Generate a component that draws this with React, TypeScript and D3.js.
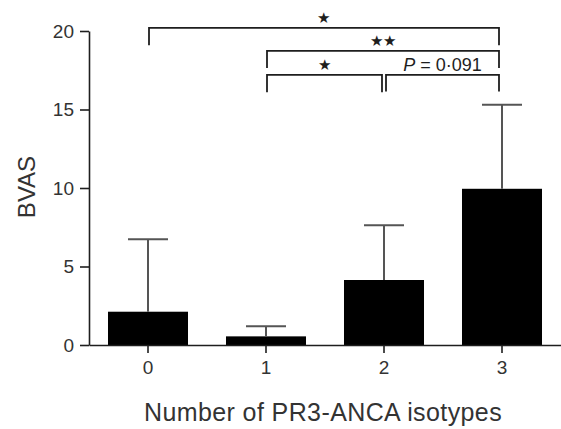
import { useEffect, useRef } from 'react'
import * as d3 from 'd3'

const categories = ['0', '1', '2', '3']
const means = [2.12, 0.55, 4.14, 9.95]
const upper = [6.73, 1.2, 7.62, 15.3]
const yTicks = [0, 5, 10, 15, 20]

// significance brackets: from/to category, bracket level and leg end (data units), label
const brackets = [
  { from: '0', to: '3', top: 20.2, bottom: 19.1, label: '*' },
  { from: '1', to: '3', top: 18.73, bottom: 17.64, label: '**' },
  { from: '1', to: '2', top: 17.2, bottom: 16.1, label: '*' },
  { from: '2', to: '3', top: 17.2, bottom: 16.15, label: 'P = 0·091' },
]

const W = 561
const H = 429
const FONT = 'Liberation Sans, Arial, sans-serif'
const INK = '#1e1e1e'

export default function App() {
  const svgRef = useRef<SVGSVGElement>(null)

  useEffect(() => {
    const svg = d3.select(svgRef.current)
    svg.selectAll('*').remove()

    const x = d3.scaleBand<string>()
      .domain(categories)
      .range([89, 561])
      .paddingInner(0.322)
      .paddingOuter(0.161)

    const y = d3.scaleLinear().domain([0, 20]).range([345, 31])

    const g = svg.append('g')

    // bars
    g.selectAll('rect.bar')
      .data(categories)
      .join('rect')
      .attr('class', 'bar')
      .attr('x', d => x(d)!)
      .attr('width', x.bandwidth())
      .attr('y', (d, i) => y(means[i]))
      .attr('height', (d, i) => y(0) - y(means[i]))
      .attr('fill', '#000')

    // error bars (upper only)
    const capHalf = x.bandwidth() / 4
    categories.forEach((c, i) => {
      const cx = x(c)! + x.bandwidth() / 2
      g.append('line')
        .attr('x1', cx).attr('x2', cx)
        .attr('y1', y(means[i])).attr('y2', y(upper[i]))
        .attr('stroke', '#555').attr('stroke-width', 2)
      g.append('line')
        .attr('x1', cx - capHalf).attr('x2', cx + capHalf)
        .attr('y1', y(upper[i])).attr('y2', y(upper[i]))
        .attr('stroke', '#555').attr('stroke-width', 2)
    })

    // y axis
    const yAxis = g.append('g')
      .attr('transform', 'translate(89,0)')
      .call(d3.axisLeft(y).tickValues(yTicks).tickSize(9).tickPadding(6).tickSizeOuter(0))
    yAxis.select('.domain').attr('stroke', INK).attr('stroke-width', 1.6)
    yAxis.selectAll('.tick line').attr('stroke', INK).attr('stroke-width', 1.6)
    yAxis.selectAll('.tick text')
      .attr('font-family', FONT).attr('font-size', 19).attr('fill', '#333')

    // x axis
    const xAxis = g.append('g')
      .attr('transform', 'translate(0,345)')
      .call(d3.axisBottom(x).tickSize(8).tickPadding(8).tickSizeOuter(0))
    xAxis.select('.domain').attr('stroke', INK).attr('stroke-width', 1.6)
    xAxis.selectAll('.tick line').attr('stroke', INK).attr('stroke-width', 1.6)
    xAxis.selectAll('.tick text')
      .attr('font-family', FONT).attr('font-size', 19).attr('fill', '#333')

    // axis titles
    g.append('text')
      .attr('transform', `translate(35,187) rotate(-90)`)
      .attr('text-anchor', 'middle')
      .attr('font-family', FONT).attr('font-size', 24).attr('fill', '#333')
      .text('BVAS')

    g.append('text')
      .attr('x', 323).attr('y', 421)
      .attr('text-anchor', 'middle')
      .attr('font-family', FONT).attr('font-size', 25).attr('fill', '#333')
      .attr('letter-spacing', 0.4)
      .text('Number of PR3-ANCA isotypes')

    // significance brackets
    brackets.forEach(b => {
      const x1 = x(b.from)! + x.bandwidth() / 2 + (b.from === '2' ? 2 : 1)
      const x2 = x(b.to)! + x.bandwidth() / 2 - (b.to === '2' ? 2 : 3)
      const yy = y(b.top)
      const yd = y(b.bottom)
      g.append('path')
        .attr('d', `M${x1},${yd}V${yy}H${x2}V${yd}`)
        .attr('fill', 'none').attr('stroke', INK).attr('stroke-width', 1.8)
      const t = g.append('text')
        .attr('x', (x1 + x2) / 2)
        .attr('text-anchor', 'middle')
        .attr('font-family', FONT).attr('fill', INK)
      if (b.label.startsWith('P')) {
        t.attr('y', yy - 4).attr('font-size', 18)
        t.append('tspan').attr('font-style', 'italic').text('P')
        t.append('tspan').text(' = 0·091')
      } else {
        t.attr('y', yy - 10).attr('font-size', 15)
          .attr('dominant-baseline', 'central')
          .attr('letter-spacing', 0.5)
          .text(b.label.replace(/\*/g, '\u2605'))
      }
    })
  }, [])

  return (
    <svg ref={svgRef} width={W} height={H}
      style={{ position: 'absolute', left: 0, top: 0, background: '#fff' }} />
  )
}
